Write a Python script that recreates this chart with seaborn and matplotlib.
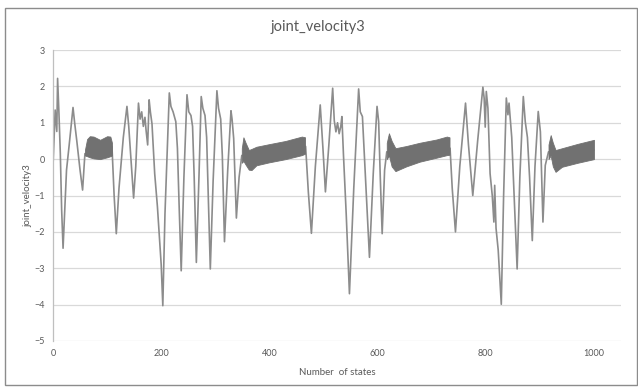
import matplotlib
matplotlib.use("Agg")
import matplotlib.pyplot as plt
import numpy as np
import pandas as pd
import seaborn as sns
from matplotlib.patches import Rectangle

# ---- data ----
state = [0, 2, 4, 7, 8.5, 11, 13.5, 16, 18.6, 22, 25, 30, 37, 40, 44, 50, 54.7, 57, 59,
         109, 113, 117, 122, 130, 136.7, 140, 145, 149, 153, 158, 161, 164, 167, 170, 172, 175,
         177.7, 180, 183, 188, 193, 197, 200, 201.5, 203, 207, 212, 215, 218, 222, 227, 230, 233,
         237, 242, 247.7, 251, 255, 258, 261, 265, 270, 274, 277, 281, 284, 290.8, 296, 303, 306,
         310, 313, 317, 323, 329, 331, 334, 339, 344, 349,
         467, 472, 477.7, 485, 494, 499, 503.6, 510, 517, 520, 523, 526, 529, 532, 534, 537, 542,
         548, 556, 565, 568, 572, 577, 585, 592, 599, 602, 605, 608.5, 613, 617,
         734, 738, 744, 752, 762.6, 768, 776, 785, 794.7, 797, 799, 801, 804, 808, 812, 815, 816.5,
         819, 823, 828.7, 833, 838, 841, 843, 848, 853, 858, 863, 869.4, 873, 877, 881, 886, 891,
         897, 901, 905.7, 910, 916, 1000]
velocity = [-0.2, 0.6, 1.35, 0.76, 2.22, 1.26, 0.17, -1.4, -2.45, -1.3, -0.3, 0.4, 1.42, 1.0, 0.5, -0.3, -0.85, -0.3, 0.15,
            0.35, -1.0, -2.05, -0.8, 0.6, 1.45, 0.9, -0.2, -1.07, -0.2, 1.54, 1.1, 1.3, 0.9, 1.15, 0.8, 0.39,
            1.63, 1.3, 0.97, -0.4, -1.3, -2.2, -2.9, -3.5, -4.03, -1.5, 0.6, 1.82, 1.45, 1.3, 1.03, 0.3, -1.2,
            -3.07, -0.5, 1.77, 1.3, 1.2, 0.9, -0.5, -2.84, -0.4, 1.72, 1.4, 1.2, 0.6, -3.02, -0.6, 1.88, 1.4,
            1.1, 0.1, -2.27, -0.3, 1.33, 1.1, 0.57, -1.62, -0.5, 0.1,
            0.35, -0.9, -2.04, -0.2, 1.49, 0.3, -0.9, 0.4, 1.95, 1.05, 0.75, 1.0, 0.7, 0.9, 1.17, 0.1, -1.5,
            -3.7, -0.8, 1.93, 1.3, 1.17, -0.3, -2.7, -0.4, 1.45, 1.03, -0.5, -2.05, -0.3, 0.2,
            0.3, -0.8, -2.0, -0.2, 1.54, 0.4, -1.0, 0.5, 1.98, 1.68, 0.88, 1.86, 1.4, -0.4, -1.0, -1.73, -0.72,
            -1.9, -2.5, -3.99, -1.0, 1.68, 1.22, 1.54, 0.6, -1.2, -3.02, -0.5, 1.72, 1.03, 0.6, -0.5, -2.24, -0.2,
            1.31, 0.75, -1.73, -0.17, 0.2, 0.25]

# dense-oscillation bands (upper / lower envelopes)
band1_x = [59, 63, 68, 75, 87, 100, 106, 109]
band1_hi = [0.25, 0.55, 0.63, 0.62, 0.53, 0.63, 0.62, 0.45]
band1_lo = [0.1, 0.08, 0.05, 0.02, 0.0, 0.05, 0.08, 0.1]

band2_x = [349, 352, 356, 362, 367, 376, 399, 430, 460, 466]
band2_hi = [0.3, 0.6, 0.45, 0.25, 0.28, 0.34, 0.41, 0.5, 0.62, 0.6]
band2_lo = [-0.1, -0.05, -0.15, -0.29, -0.3, -0.17, -0.09, 0.0, 0.11, 0.15]

band3_x = [617, 621, 626, 633, 653, 678, 709, 728, 733]
band3_hi = [0.45, 0.71, 0.5, 0.3, 0.36, 0.45, 0.54, 0.62, 0.6]
band3_lo = [0.0, 0.1, -0.2, -0.33, -0.2, -0.07, 0.04, 0.11, 0.12]

band4_x = [916, 920, 924, 929, 941, 970, 1000]
band4_hi = [0.4, 0.66, 0.45, 0.25, 0.3, 0.42, 0.53]
band4_lo = [0.0, 0.1, -0.2, -0.35, -0.21, -0.1, 0.0]

y_ticks = [-5, -4, -3, -2, -1, 0, 1, 2, 3]
x_ticks = [0, 200, 400, 600, 800, 1000]

# ---- plotting ----
sns.set_theme(style="white")
plt.rcParams['font.family'] = ['Lato', 'DejaVu Sans']

fig = plt.figure(figsize=(6.38, 3.87), dpi=100)
ax = fig.add_axes([53 / 638, 1 - 341 / 387, (621 - 53) / 638, (341 - 50) / 387])

df = pd.DataFrame({"state": state, "velocity": velocity})
sns.lineplot(data=df, x="state", y="velocity", ax=ax, color="#8c8c8c",
             linewidth=1.2, estimator=None, sort=False, zorder=2)

band_color = "#717171"
for bx, bh, bl in [(band1_x, band1_hi, band1_lo), (band2_x, band2_hi, band2_lo),
                   (band3_x, band3_hi, band3_lo), (band4_x, band4_hi, band4_lo)]:
    ax.fill_between(bx, bl, bh, color=band_color, linewidth=0.6,
                    edgecolor=band_color, zorder=3)

ax.set_xlim(0, 1050)
ax.set_ylim(-5, 3)
ax.set_yticks(y_ticks)
ax.set_xticks(x_ticks)
ax.grid(axis="y", color="#d9d9d9", linewidth=0.9)
ax.set_axisbelow(True)
for s in ["top", "right", "bottom"]:
    ax.spines[s].set_visible(False)
ax.spines["left"].set_color("#bfbfbf")
ax.spines["left"].set_linewidth(0.9)
ax.tick_params(axis="both", length=0, labelsize=6.5, labelcolor="#595959", pad=6)

ax.set_xlabel("Number  of states", fontsize=7, color="#595959", labelpad=7)
ax.set_ylabel("joint_velocity3", fontsize=7, color="#595959", labelpad=1)
fig.text(0.498, 0.93, "joint_velocity3", ha="center", va="center",
         fontsize=10.5, color="#595959")

fig.patches.append(Rectangle((5 / 638, 2 / 387), 1 - 6 / 638, 1 - 10 / 387,
                             transform=fig.transFigure, fill=False,
                             edgecolor="#8c8c8c", linewidth=1.0))

fig.savefig("out.png", dpi=100, facecolor="white")
